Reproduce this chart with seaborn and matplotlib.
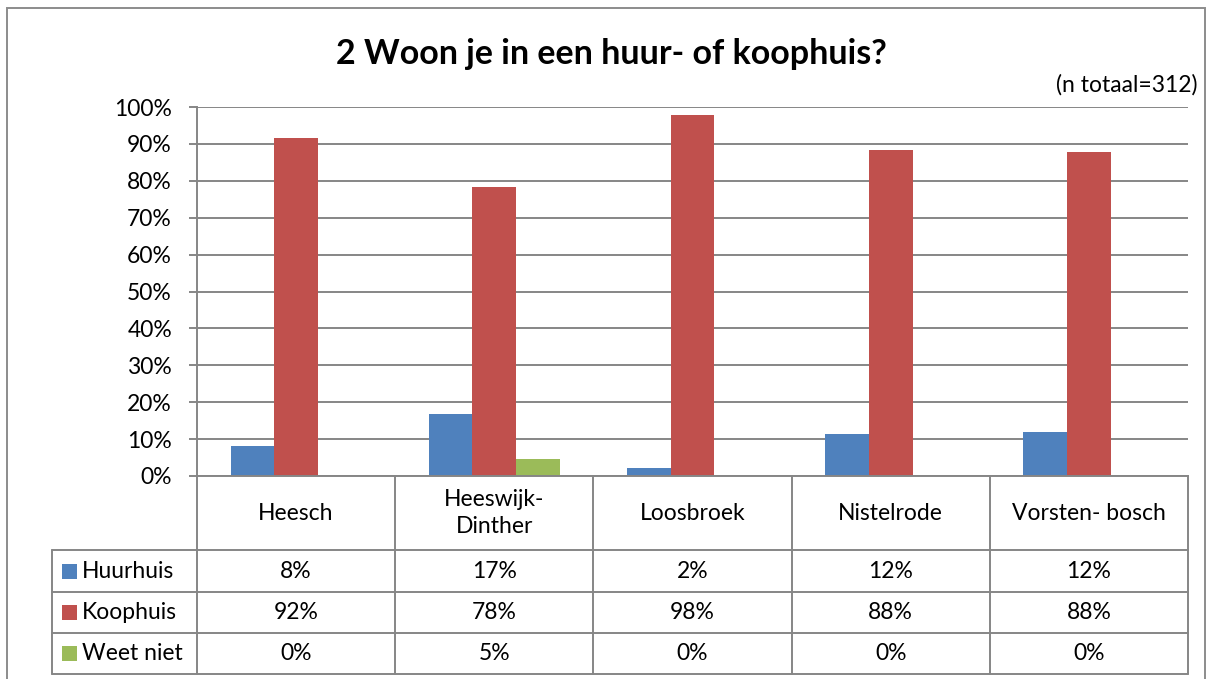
import matplotlib
matplotlib.use("Agg")
import matplotlib.pyplot as plt
import matplotlib.transforms as mtransforms
from matplotlib.lines import Line2D
from matplotlib.patches import Rectangle
import seaborn as sns
import pandas as pd

# ---- data ----
kernen = ["Heesch", "Heeswijk-\nDinther", "Loosbroek", "Nistelrode", "Vorsten- bosch"]
series = ["Huurhuis", "Koophuis", "Weet niet"]
huurhuis = [8.1, 16.8, 2.1, 11.5, 12.0]
koophuis = [91.6, 78.3, 97.7, 88.3, 87.9]
weet_niet = [0.0, 4.6, 0.0, 0.0, 0.0]
labels_huur = ["8%", "17%", "2%", "12%", "12%"]
labels_koop = ["92%", "78%", "98%", "88%", "88%"]
labels_weet = ["0%", "5%", "0%", "0%", "0%"]
colors = ["#4F81BD", "#C0504D", "#9BBB59"]
title = "2 Woon je in een huur- of koophuis?"
subtitle = "(n totaal=312)"
yticks = [0, 10, 20, 30, 40, 50, 60, 70, 80, 90, 100]

values = [huurhuis, koophuis, weet_niet]
labels = [labels_huur, labels_koop, labels_weet]
rows = []
for s, vals in zip(series, values):
    for k, v in zip(kernen, vals):
        rows.append({"Kern": k, "Antwoord": s, "Pct": v})
df = pd.DataFrame(rows)

sns.set_theme(style="white")
plt.rcParams["font.family"] = ["Lato", "DejaVu Sans"]

FS = 16.5
W, H = 1213, 679
fig = plt.figure(figsize=(W / 100, H / 100), dpi=100)
fig.patch.set_facecolor("white")

def fx(x):
    return x / W

def fy(y):
    return 1 - y / H

L, R, T, B = 197, 1188, 107, 476
ax = fig.add_axes([fx(L), fy(B), fx(R) - fx(L), fy(T) - fy(B)])
sns.barplot(data=df, x="Kern", y="Pct", hue="Antwoord", palette=colors,
            width=0.66, saturation=1, legend=False, ax=ax, linewidth=0,
            order=kernen, hue_order=series)
ax.set_ylim(0, 100)
ax.set_xlim(-0.5, len(kernen) - 0.5)
ax.set_yticks(yticks)
ax.set_yticklabels([f"{t}%" for t in yticks], fontsize=FS, color="black")
ax.set_xticks([])
ax.set_xlabel("")
ax.set_ylabel("")
grid_c = "#868686"
ax.yaxis.grid(True, color=grid_c, linewidth=1.4)
ax.set_axisbelow(True)
for sp in ["top", "right"]:
    ax.spines[sp].set_visible(False)
ax.spines["left"].set_color(grid_c)
ax.spines["left"].set_linewidth(1.4)
ax.spines["bottom"].set_color(grid_c)
ax.spines["bottom"].set_linewidth(1.4)
ax.tick_params(axis="y", which="major", direction="out", length=6, width=1.4,
               color=grid_c, pad=12, left=True)

# ---- data table below the plot ----
blend = mtransforms.blended_transform_factory(ax.transData, fig.transFigure)
row_y = [550, 592, 633, 674]
table_left = 52
lw = 1.4
for i in range(len(kernen) + 1):
    xd = -0.5 + i
    ax.add_artist(Line2D([xd, xd], [fy(B), fy(row_y[-1])], transform=blend,
                         color=grid_c, lw=lw, clip_on=False))
for yy in row_y:
    fig.add_artist(Line2D([fx(table_left), fx(R)], [fy(yy), fy(yy)],
                          transform=fig.transFigure, color=grid_c, lw=lw))
fig.add_artist(Line2D([fx(table_left), fx(table_left)], [fy(row_y[0]), fy(row_y[-1])],
                      transform=fig.transFigure, color=grid_c, lw=lw))

for i, k in enumerate(kernen):
    ax.text(i, fy((B + row_y[0]) / 2), k, transform=blend, ha="center", va="center",
            fontsize=FS, color="black", linespacing=1.4)

for r, (s, lab, c) in enumerate(zip(series, labels, colors)):
    yc = (row_y[r] + row_y[r + 1]) / 2
    fig.add_artist(Rectangle((fx(62), fy(yc + 7.5)), fx(15), 15 / H,
                             transform=fig.transFigure, facecolor=c, edgecolor="none"))
    fig.text(fx(82), fy(yc), s, ha="left", va="center", fontsize=FS, color="black")
    for i, t in enumerate(lab):
        ax.text(i, fy(yc), t, transform=blend, ha="center", va="center",
                fontsize=FS, color="black")

fig.text(fx(611), fy(54), title, ha="center", va="center", fontsize=24.5,
         fontweight="bold", color="black")
fig.text(fx(1197), fy(85), subtitle, ha="right", va="center", fontsize=FS, color="black")

fig.add_artist(Rectangle((fx(7), fy(700)), fx(1205 - 7), (700 - 8) / H,
                         transform=fig.transFigure, facecolor="none",
                         edgecolor="#8c8c8c", lw=1.4))

fig.savefig("out.png", dpi=100)
